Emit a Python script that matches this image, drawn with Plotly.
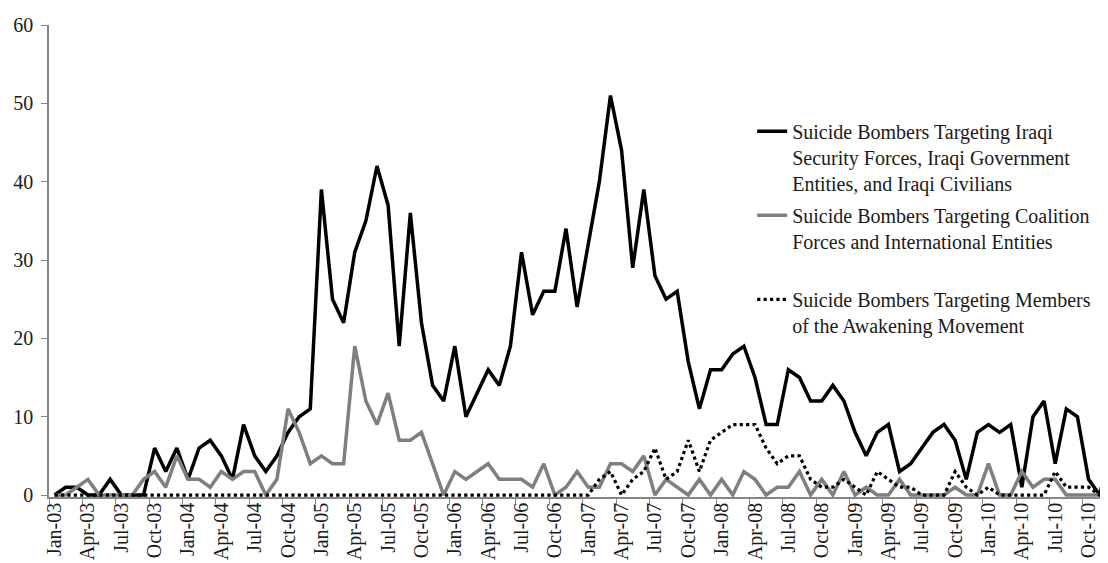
import plotly.graph_objects as go

MONTH_NAMES = ["Jan", "Feb", "Mar", "Apr", "May", "Jun",
               "Jul", "Aug", "Sep", "Oct", "Nov", "Dec"]
YEARS = ["03", "04", "05", "06", "07", "08", "09", "10"]
months = [f"{m}-{y}" for y in YEARS for m in MONTH_NAMES]

iraqi_targets = [
    0, 1, 1, 0, 0, 2, 0, 0, 0, 6, 3, 6,
    2, 6, 7, 5, 2, 9, 5, 3, 5, 8, 10, 11,
    39, 25, 22, 31, 35, 42, 37, 19, 36, 22, 14, 12,
    19, 10, 13, 16, 14, 19, 31, 23, 26, 26, 34, 24,
    32, 40, 51, 44, 29, 39, 28, 25, 26, 17, 11, 16,
    16, 18, 19, 15, 9, 9, 16, 15, 12, 12, 14, 12,
    8, 5, 8, 9, 3, 4, 6, 8, 9, 7, 2, 8,
    9, 8, 9, 1, 10, 12, 4, 11, 10, 2, 0, 6,
]

coalition_targets = [
    0, 0, 1, 2, 0, 0, 0, 0, 2, 3, 1, 5,
    2, 2, 1, 3, 2, 3, 3, 0, 2, 11, 8, 4,
    5, 4, 4, 19, 12, 9, 13, 7, 7, 8, 4, 0,
    3, 2, 3, 4, 2, 2, 2, 1, 4, 0, 1, 3,
    1, 1, 4, 4, 3, 5, 0, 2, 1, 0, 2, 0,
    2, 0, 3, 2, 0, 1, 1, 3, 0, 2, 0, 3,
    0, 1, 0, 0, 2, 0, 0, 0, 0, 1, 0, 0,
    4, 0, 0, 3, 1, 2, 2, 0, 0, 0, 0, 0,
]

awakening_targets = [
    0, 0, 0, 0, 0, 0, 0, 0, 0, 0, 0, 0,
    0, 0, 0, 0, 0, 0, 0, 0, 0, 0, 0, 0,
    0, 0, 0, 0, 0, 0, 0, 0, 0, 0, 0, 0,
    0, 0, 0, 0, 0, 0, 0, 0, 0, 0, 0, 0,
    0, 2, 3, 0, 2, 3, 6, 2, 3, 7, 3, 7,
    8, 9, 9, 9, 6, 4, 5, 5, 2, 1, 1, 2,
    1, 0, 3, 2, 1, 1, 0, 0, 0, 3, 1, 0,
    1, 0, 0, 0, 0, 0, 3, 1, 1, 1, 0, 0,
]

names = [
    "Suicide Bombers Targeting Iraqi<br>Security Forces, Iraqi Government<br>Entities, and Iraqi Civilians",
    "Suicide Bombers Targeting Coalition<br>Forces and International Entities<br> ",
    "Suicide Bombers Targeting Members<br>of the Awakening Movement",
]

SERIF = "Liberation Serif, Times New Roman, serif"

fig = go.Figure()
fig.add_trace(go.Scatter(
    x=months, y=iraqi_targets, mode="lines", name=names[0],
    line=dict(color="#000000", width=3.5), legendgroup="a",
))
fig.add_trace(go.Scatter(
    x=months, y=coalition_targets, mode="lines", name=names[1],
    line=dict(color="#7f7f7f", width=3.5), legendgroup="b",
))
fig.add_trace(go.Scatter(
    x=months, y=awakening_targets, mode="lines", name=names[2],
    line=dict(color="#000000", width=3.2, dash="dot"), legendgroup="c",
))

# The page body adds an 8px offset; the figure is sized so it fills the window.
fig.update_layout(
    width=1100, height=555,
    margin=dict(l=41, r=0, t=17, b=66),
    paper_bgcolor="white", plot_bgcolor="white",
    font=dict(family=SERIF, size=20, color="#1a1a1a"),
    showlegend=True,
    legend=dict(
        x=0.664, y=0.816, xanchor="left", yanchor="top",
        font=dict(family=SERIF, size=20, color="#1a1a1a"),
        valign="top", traceorder="grouped", tracegroupgap=3,
        bgcolor="rgba(0,0,0,0)",
    ),
    xaxis=dict(
        type="category",
        range=[-0.5, 94.75],
        tickmode="linear", tick0=0, dtick=3,
        tickson="boundaries",
        ticks="outside", ticklen=5, tickcolor="#868686", tickwidth=1.2,
        tickangle=-90,
        ticklabelstandoff=-4,
        showline=True, linecolor="#868686", linewidth=1.5,
        showgrid=False, zeroline=False, automargin=False,
        tickfont=dict(family=SERIF, size=20, color="#1a1a1a"),
    ),
    yaxis=dict(
        range=[-0.25, 60],
        tickmode="array", tickvals=[0, 10, 20, 30, 40, 50, 60],
        ticks="outside", ticklen=6, tickcolor="#868686", tickwidth=1.2,
        ticklabelstandoff=4,
        showline=True, linecolor="#868686", linewidth=1.5,
        showgrid=False, zeroline=False, automargin=False,
        tickfont=dict(family=SERIF, size=20, color="#1a1a1a"),
    ),
)

fig.write_html("out.html")
